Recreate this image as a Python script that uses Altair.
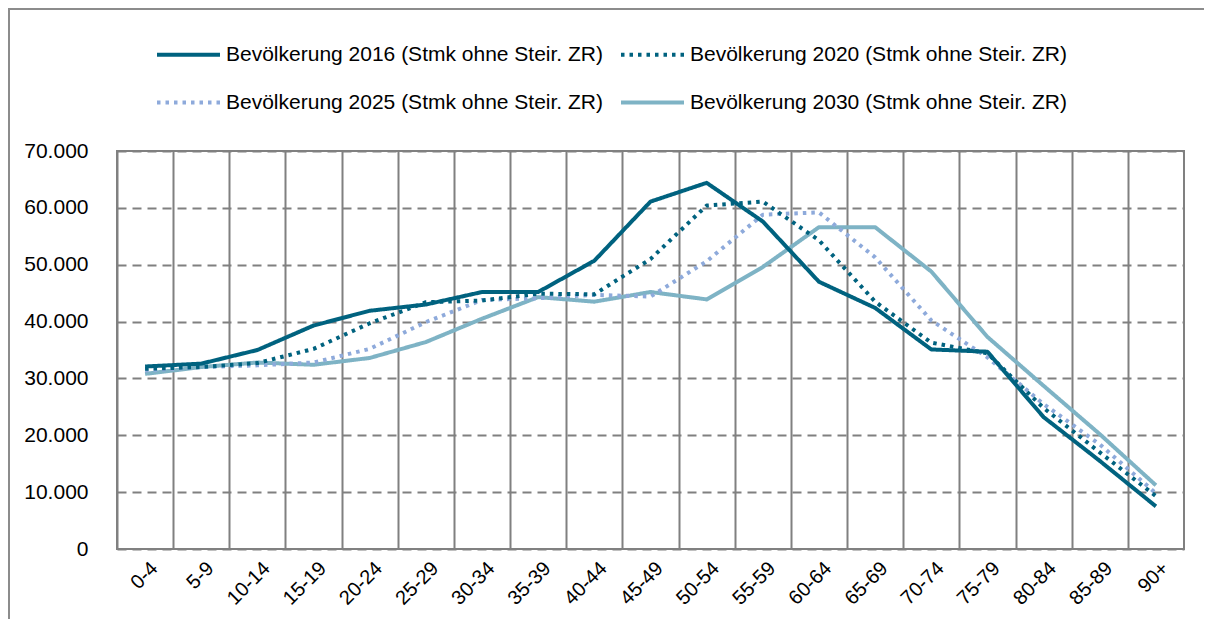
import altair as alt
import pandas as pd

categories = ["0-4", "5-9", "10-14", "15-19", "20-24", "25-29", "30-34", "35-39", "40-44",
              "45-49", "50-54", "55-59", "60-64", "65-69", "70-74", "75-79", "80-84", "85-89", "90+"]

series_names = [
    "Bevölkerung 2016 (Stmk ohne Steir.  ZR)",
    "Bevölkerung 2020 (Stmk ohne Steir.  ZR)",
    "Bevölkerung 2025 (Stmk ohne Steir.  ZR)",
    "Bevölkerung 2030 (Stmk ohne Steir.  ZR)",
]

pop_2016 = [32100, 32600, 35000, 39300, 41900, 43000, 45200, 45200, 50700, 61100,
            64400, 57600, 47000, 42400, 35100, 34700, 23200, 15500, 7500]
pop_2020 = [31700, 32000, 32700, 35200, 39700, 43400, 43700, 44900, 44800, 51000,
            60400, 61100, 54300, 43500, 36300, 34400, 24800, 17000, 9300]
pop_2025 = [31400, 32000, 32300, 32800, 35200, 39900, 43800, 44100, 44700, 44400,
            50600, 58800, 59200, 51300, 40200, 33700, 25500, 18400, 9800]
pop_2030 = [30800, 32000, 32800, 32400, 33600, 36400, 40500, 44300, 43500, 45200,
            43900, 49600, 56600, 56600, 48800, 37300, 28700, 20200, 11200]

colors = ["#00627F", "#00627F", "#8EAADB", "#7EB3C5"]
dashes = [[1, 0], [3.5, 5], [3.5, 5], [1, 0]]
y_ticks = [0, 10000, 20000, 30000, 40000, 50000, 60000, 70000]

rows = []
# draw order: 2030 first so that 2016 ends up on top
for name, vals in zip(series_names[::-1], [pop_2030, pop_2025, pop_2020, pop_2016]):
    for c, v in zip(categories, vals):
        rows.append({"Alter": c, "Serie": name, "Wert": v})
df = pd.DataFrame(rows)

W, H = 1067, 398
step = W / len(categories)
FONT = "Liberation Sans"
PAD = {"left": 109, "top": 143, "right": 20, "bottom": 70}

lines = alt.Chart(df).mark_line(strokeWidth=4, strokeCap="butt", strokeJoin="round").encode(
    x=alt.X("Alter:N", sort=categories,
            scale=alt.Scale(type="point", padding=0.5),
            axis=alt.Axis(title=None, labelAngle=315, labelAlign="right", labelBaseline="middle",
                          tickOffset=-step / 2, labelOffset=step / 2 + 9, labelPadding=16,
                          ticks=False, domain=False, grid=True, gridColor="#808080",
                          gridWidth=2, labelFontSize=20, labelFont=FONT, labelColor="#000000")),
    y=alt.Y("Wert:Q", scale=alt.Scale(domain=[0, 70000], nice=False),
            axis=alt.Axis(title=None, values=y_ticks, ticks=False, domain=False, grid=True,
                          gridColor="#808080", gridWidth=2, gridDash=[9, 6],
                          labelExpr="replace(format(datum.value, ','), ',', '.')",
                          labelPadding=29, labelFontSize=21, labelFont=FONT, labelColor="#000000")),
    color=alt.Color("Serie:N", scale=alt.Scale(domain=series_names, range=colors),
                    legend=alt.Legend(title=None)),
    strokeDash=alt.StrokeDash("Serie:N", scale=alt.Scale(domain=series_names, range=dashes),
                              legend=alt.Legend(title=None)),
)

# outer chart frame (only top and left edges fall inside the window)
frame_top = alt.Chart(df).mark_rule(stroke="#8C8C8C", strokeWidth=2).encode(
    x=alt.value(-109), x2=alt.value(W + PAD["right"]), y=alt.value(-142)
)
frame_left = alt.Chart(df).mark_rule(stroke="#8C8C8C", strokeWidth=2).encode(
    x=alt.value(-108), y=alt.value(-143), y2=alt.value(H + PAD["bottom"])
)

chart = alt.layer(frame_top, frame_left, lines).properties(
    width=W, height=H,
    autosize="none",
    padding=PAD,
    background="#FFFFFF",
).configure_view(stroke="#808080", strokeWidth=2).configure_legend(
    orient="none", legendX=38, legendY=-109, columns=2, direction="horizontal",
    symbolType="M-3,0H3", symbolSize=441, symbolStrokeWidth=4, symbolOffset=21,
    labelOffset=25, labelFontSize=21, labelFont=FONT, labelColor="#000000", labelLimit=0,
    rowPadding=25, columnPadding=4, padding=0,
)

chart.save("out.html", embed_options={"renderer": "svg", "actions": False})
